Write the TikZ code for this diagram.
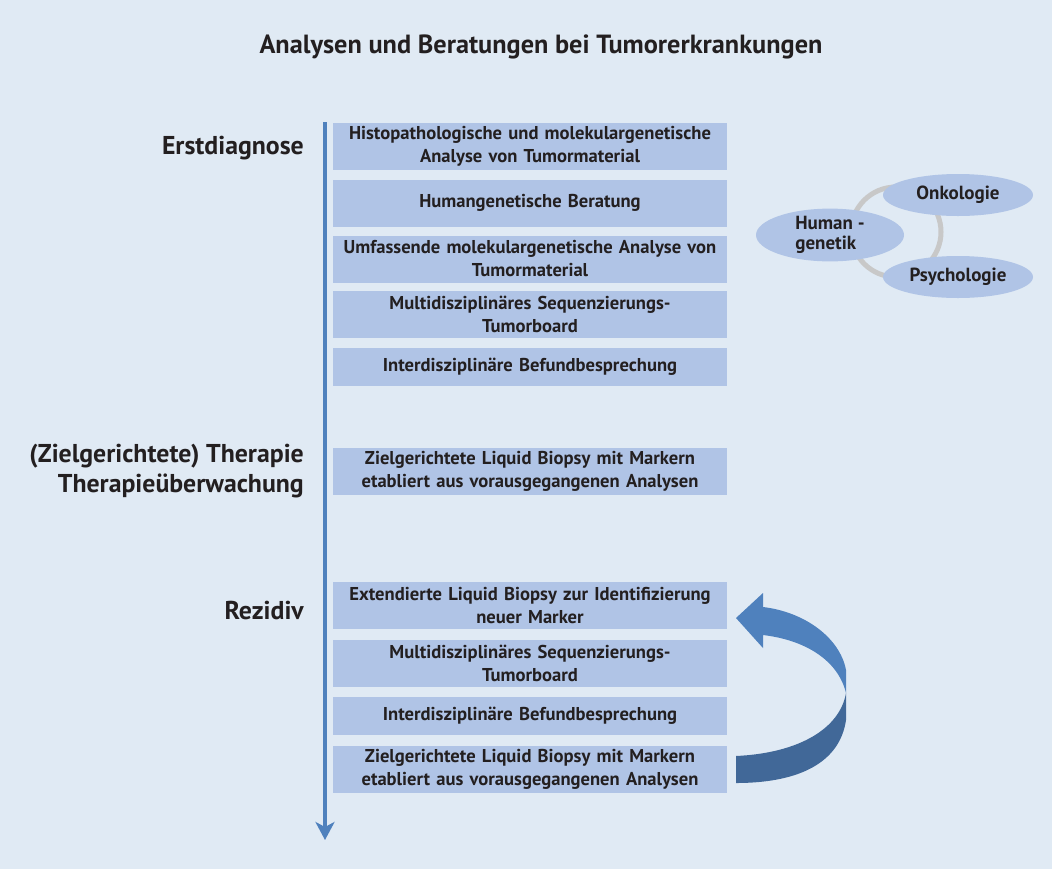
\documentclass[tikz,border=0pt]{standalone}
\usepackage{fontspec}
\setmainfont{PT Sans}
\usetikzlibrary{arrows.meta,shapes.geometric}

\definecolor{bgblue}{RGB}{224,234,244}
\definecolor{boxblue}{RGB}{176,196,230}
\definecolor{lineblue}{RGB}{79,129,189}
\definecolor{darkblue}{RGB}{65,104,152}
\definecolor{ringgray}{RGB}{200,200,200}
\definecolor{inkblack}{RGB}{35,31,32}

\tikzset{
stepbox/.style = {
fill = boxblue,
minimum width = 394pt,
minimum height = 47pt,
text width = 392pt,
align = center,
inner sep = 0pt,
text = inkblack,
font = \bfseries\fontsize{18.6}{23}\selectfont},
shortbox/.style = {stepbox, minimum height = 38pt},
phase/.style = {
anchor = east,
align = right,
inner sep = 0pt,
text = inkblack,
font = \bfseries\fontsize{25.8}{30}\selectfont},
field/.style = {
ellipse,
fill = boxblue,
minimum width = 150pt,
minimum height = 42pt,
inner sep = 0pt,
align = left,
text = inkblack,
font = \bfseries\fontsize{19}{20}\selectfont}}

\begin{document}
\begin{tikzpicture}[x=1pt,y=-1pt]
\useasboundingbox (0,0) rectangle (1052,868);
\fill[bgblue] (-3,-3) rectangle (1055,871);
\node[text=inkblack,font=\bfseries\fontsize{26.3}{30}\selectfont] (title) at (541,47)
{Analysen und Beratungen bei Tumorerkrankungen};
% time line
\coordinate (start) at (325,122);
\coordinate (end) at (325,840);
\draw[lineblue,line width=4pt,-{Stealth[length=18pt,width=19pt,inset=5pt]}] (start) -- (end);
% phases
\node[phase] (erst) at (304,148) {Erstdiagnose};
\node[phase] (therapie) at (304,471) {(Zielgerichtete) Therapie\\Therapieüberwachung};
\node[phase] (rezidiv) at (304,610) {Rezidiv};
% steps
\node[stepbox] (s1) at (530,146.5) {Histopathologische und molekulargenetische\\Analyse von Tumormaterial};
\node[stepbox] (s2) at (530,203) {Humangenetische Beratung};
\node[stepbox] (s3) at (530,259) {Umfassende molekulargenetische Analyse von\\Tumormaterial};
\node[stepbox] (s4) at (530,314.5) {Multidisziplinäres Sequenzierungs-\\Tumorboard};
\node[shortbox] (s5) at (530,367) {Interdisziplinäre Befundbesprechung};
\node[stepbox] (s6) at (530,471.5) {Zielgerichtete Liquid Biopsy mit Markern\\etabliert aus vorausgegangenen Analysen};
\node[stepbox] (s7) at (530,605.5) {Extendierte Liquid Biopsy zur Identifizierung\\neuer Marker};
\node[stepbox] (s8) at (530,663.5) {Multidisziplinäres Sequenzierungs-\\Tumorboard};
\node[shortbox] (s9) at (530,716) {Interdisziplinäre Befundbesprechung};
\node[stepbox] (s10) at (530,769) {Zielgerichtete Liquid Biopsy mit Markern\\etabliert aus vorausgegangenen Analysen};
% loop back arrow
\fill[darkblue] (736,756) .. controls (800,753) and (840,728) .. (846,693)
-- (846,720) .. controls (840,762) and (800,783) .. (736,783) -- cycle;
\fill[lineblue] (736,618) -- (763,593) -- (763,607)
.. controls (805,612) and (840,638) .. (846,670) -- (846,693)
.. controls (838,660) and (805,640) .. (763,635) -- (763,648) -- cycle;
% disciplines
\draw[ringgray,line width=5pt] (896,232) circle[radius=45pt];
\node[field,minimum width=148pt,minimum height=46pt] (human) at (830,235) {Human -\\genetik};
\node[field] (onko) at (958,195) {Onkologie};
\node[field] (psycho) at (958,277) {Psychologie};
\end{tikzpicture}
\end{document}
